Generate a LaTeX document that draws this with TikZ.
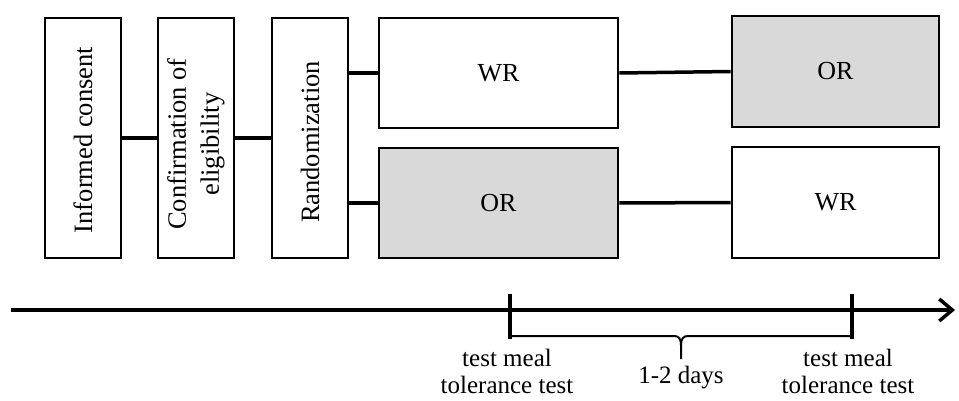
\documentclass[tikz,border=0pt]{standalone}
\usepackage{fontspec}
\setmainfont{Liberation Serif}
\usetikzlibrary{arrows.meta}
\begin{document}
\begin{tikzpicture}[x=1pt,y=-1pt,
  box/.style={draw, line width=2.6pt, inner sep=0pt, fill=white},
  grey/.style={box, fill=boxgrey},
  conn/.style={line width=3.5pt},
  lbl/.style={font=\fontsize{25}{27}\selectfont, align=center, inner sep=0pt},
  vlbl/.style={font=\fontsize{26.5}{33}\selectfont, align=center, inner sep=0pt, rotate=90}
]
\definecolor{boxgrey}{HTML}{D9D9D9}
\useasboundingbox (0,0) rectangle (959,401);
% stage boxes
\node[box, minimum width=76pt, minimum height=240pt] (IC) at (83,138) {};
\node[vlbl] (ICt) at (83,140) {Informed consent};
\node[box, minimum width=76pt, minimum height=240pt] (CE) at (196,138) {};
\node[vlbl] (CEt) at (196,144) {Confirmation of\\eligibility};
\node[box, minimum width=76pt, minimum height=240pt] (RA) at (310,138) {};
\node[vlbl] (RAt) at (310,142) {Randomization};
% treatment boxes
\node[box, minimum width=239pt, minimum height=110pt, lbl, font=\fontsize{26}{28}\selectfont] (WR1) at (498.5,73) {WR};
\node[grey, minimum width=239pt, minimum height=110pt, lbl, font=\fontsize{26}{28}\selectfont] (OR1) at (498.5,203) {OR};
\node[grey, minimum width=207pt, minimum height=111pt, lbl, font=\fontsize{26}{28}\selectfont] (OR2) at (835.5,71.5) {OR};
\node[box, minimum width=207pt, minimum height=111pt, lbl, font=\fontsize{26}{28}\selectfont] (WR2) at (835.5,202.5) {WR};
% connectors
\draw[conn] (IC.east) -- (CE.west);
\draw[conn] (CE.east) -- (RA.west);
\draw[conn] (WR1.west -| RA.east) -- (WR1.west);
\draw[conn] (OR1.west -| RA.east) -- (OR1.west);
\draw[conn] (WR1.east) -- (OR2.west);
\draw[conn] (OR1.east) -- (WR2.west);
% timeline
\coordinate (T0) at (11,310);
\coordinate (T1) at (955,310);
\draw[line width=3.5pt, -{Straight Barb[length=13pt,width=22pt,line width=3.5pt]}] (T0) -- (T1);
\coordinate (A1) at (510,294);
\coordinate (A2) at (510,339);
\coordinate (B1) at (852,294);
\coordinate (B2) at (852,339);
\draw[line width=3.5pt] (A1) -- (A2);
\draw[line width=3.5pt] (B1) -- (B2);
% brace
\coordinate (BL) at (510,336);
\coordinate (BR) at (852,336);
\coordinate (BT) at (681,359);
\draw[line width=2pt] (BL) -- (674,336) .. controls (679,336) and (681,339) .. (681,345) -- (BT);
\draw[line width=2pt] (BR) -- (688,336) .. controls (683,336) and (681,339) .. (681,345);
% labels
\node[lbl] (L1) at (507,371) {test meal\\tolerance test};
\node[lbl] (L2) at (681,378) {1-2 days};
\node[lbl] (L3) at (848,371) {test meal\\tolerance test};
\end{tikzpicture}
\end{document}
